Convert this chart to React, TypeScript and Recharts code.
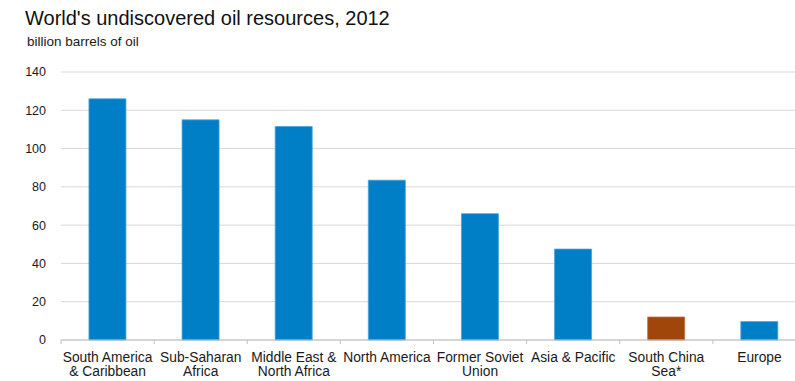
import React from "react";
import { BarChart, Bar, XAxis, YAxis, CartesianGrid, Cell } from "recharts";

const categories = [
  "South America\n& Caribbean",
  "Sub-Saharan\nAfrica",
  "Middle East &\nNorth Africa",
  "North America",
  "Former Soviet\nUnion",
  "Asia & Pacific",
  "South China\nSea*",
  "Europe",
];
const values = [126, 115, 111.5, 83.5, 66, 47.5, 12, 9.6];
const highlighted = ["South China\nSea*"];
const yTicks = [0, 20, 40, 60, 80, 100, 120, 140];

const title = "World's undiscovered oil resources, 2012";
const subtitle = "billion barrels of oil";

const BLUE = "#007EC6";
const BROWN = "#A0460A";
const FONT = "'Liberation Sans', Arial, sans-serif";

const CHART_W = 806;
const CHART_H = 381;
const Y_AXIS_W = 61;
const PLOT_W = CHART_W - Y_AXIS_W;
const BAND = PLOT_W / categories.length;

const data = categories.map((c, i) => ({ name: c, value: values[i] }));

const XTick = (props: any) => {
  const { x, y, payload } = props;
  const lines = String(payload.value).split("\n");
  const left = x - BAND / 2;
  return (
    <g>
      <line x1={left} x2={left} y1={y} y2={y + 4} stroke="#bfbfbf" strokeWidth={1} />
      <text
        x={x}
        y={y + 21.5}
        textAnchor="middle"
        fill="#1a1a1a"
        fontSize={13.8}
        fontFamily={FONT}
      >
        {lines.map((l, i) => (
          <tspan key={i} x={x} dy={i === 0 ? 0 : 14.5}>
            {l}
          </tspan>
        ))}
      </text>
    </g>
  );
};

export default function App() {
  return (
    <div
      style={{
        position: "absolute",
        left: 0,
        top: 0,
        width: 795,
        height: 381,
        overflow: "hidden",
        background: "#fff",
      }}
    >
      <div
        style={{
          position: "absolute",
          left: 25,
          top: 7,
          fontFamily: FONT,
          fontSize: 20,
          color: "#111",
          whiteSpace: "nowrap",
          lineHeight: "22px",
        }}
      >
        {title}
      </div>
      <div
        style={{
          position: "absolute",
          left: 27,
          top: 34,
          fontFamily: FONT,
          fontSize: 13.5,
          color: "#1a1a1a",
          whiteSpace: "nowrap",
          lineHeight: "15px",
        }}
      >
        {subtitle}
      </div>
      <div style={{ position: "absolute", left: 0, top: 0 }}>
        <BarChart
          width={CHART_W}
          height={CHART_H}
          data={data}
          margin={{ top: 72, right: 0, bottom: 0, left: 0 }}
          barCategoryGap="30%"
        >
          <CartesianGrid vertical={false} stroke="#d9d9d9" strokeWidth={1} />
          <XAxis
            dataKey="name"
            interval={0}
            height={41}
            axisLine={{ stroke: "#bfbfbf" }}
            tickLine={false}
            tickSize={0}
            tickMargin={0}
            tick={<XTick />}
          />
          <YAxis
            width={Y_AXIS_W}
            domain={[0, 140]}
            ticks={yTicks}
            axisLine={false}
            tickLine={false}
            tickSize={0}
            tickMargin={15}
            tick={{ fontSize: 12.5, fill: "#1a1a1a", fontFamily: FONT }}
          />
          <Bar dataKey="value" isAnimationActive={false} stroke="#4aa3dc" strokeWidth={0.8}>
            {data.map((d, i) => (
              <Cell
                key={i}
                fill={highlighted.includes(d.name) ? BROWN : BLUE}
                stroke={highlighted.includes(d.name) ? "#c07040" : "#4aa3dc"}
              />
            ))}
          </Bar>
        </BarChart>
      </div>
    </div>
  );
}
